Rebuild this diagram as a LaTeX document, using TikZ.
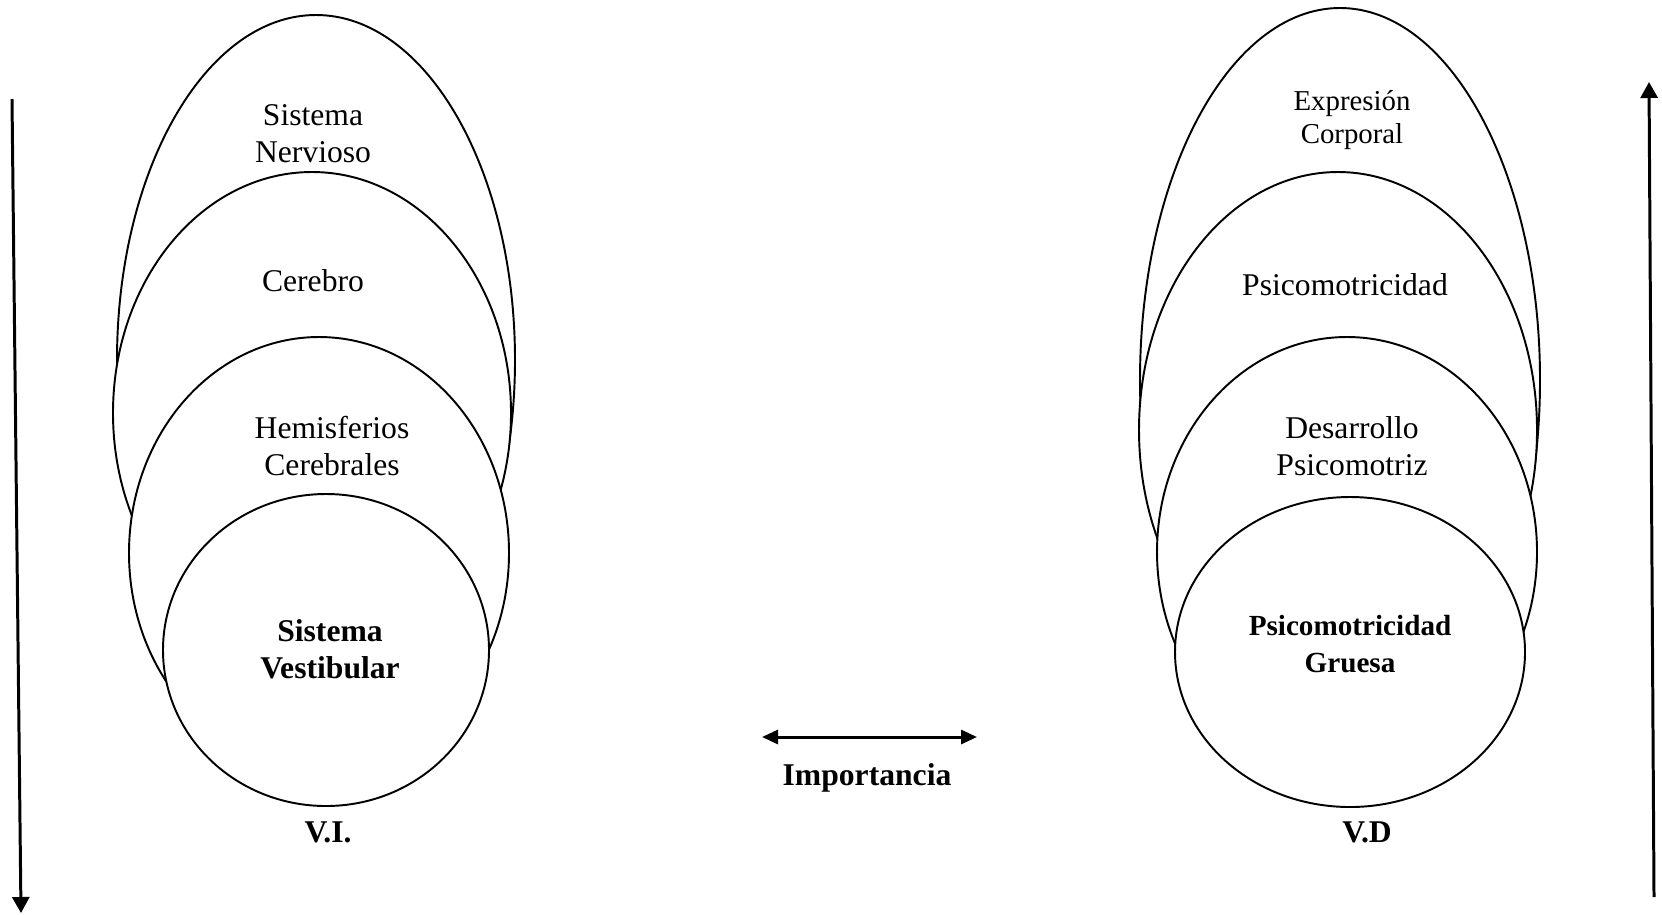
\documentclass[tikz,border=0pt]{standalone}
\usepackage{fontspec}
\setmainfont{Liberation Serif}
\usepackage{tikz}
\usetikzlibrary{shapes.geometric,arrows.meta}
\tikzset{capa/.style={draw,ellipse,fill=white,inner sep=0pt,line width=0.55pt}}
\tikzset{texto/.style={align=center,inner sep=0pt,font=\fontsize{9}{10.5}\selectfont}}
\tikzset{flecha/.style={line width=0.85pt,-{Triangle[length=1.6mm,width=1.7mm]}}}

\begin{document}
\begin{tikzpicture}[x=0.1mm,y=-0.1mm]
    \useasboundingbox (0,0) rectangle (1662,914);
    % V.I.
    \node[capa,minimum width=39.8mm,minimum height=69mm] (nervioso) at (316,360) {};
    \node[capa,minimum width=39.8mm,minimum height=48.2mm] (cerebro) at (312,413) {};
    \node[capa,minimum width=38mm,minimum height=43.2mm] (hemisf) at (319,553) {};
    \node[capa,minimum width=32.6mm,minimum height=31.2mm] (vestib) at (326,650) {};
    \node[texto] (t-nervioso) at (313,134) {Sistema\\Nervioso};
    \node[texto] (t-cerebro) at (313,281) {Cerebro};
    \node[texto] (t-hemisf) at (332,446) {Hemisferios\\Cerebrales};
    \node[texto,font=\fontsize{9}{10.5}\selectfont\bfseries] (t-vestib) at (330,649) {Sistema\\Vestibular};
    \node[texto,font=\fontsize{9}{10.5}\selectfont\bfseries] (vi) at (328,832) {V.I.};
    % V.D
    \node[capa,minimum width=40mm,minimum height=74.4mm] (expresion) at (1340,380) {};
    \node[capa,minimum width=39.8mm,minimum height=51.6mm] (psico) at (1338,430) {};
    \node[capa,minimum width=38mm,minimum height=43mm] (desarr) at (1347,552) {};
    \node[capa,minimum width=35mm,minimum height=31mm] (gruesa) at (1350,652) {};
    \node[texto,font=\fontsize{8.2}{9.6}\selectfont] (t-expresion) at (1352,120) {Expresión\\Corporal};
    \node[texto] (t-psico) at (1345,285) {Psicomotricidad};
    \node[texto] (t-desarr) at (1352,446) {Desarrollo\\Psicomotriz};
    \node[texto,font=\fontsize{8.3}{10.3}\selectfont\bfseries] (t-gruesa) at (1350,644) {Psicomotricidad\\Gruesa};
    \node[texto,font=\fontsize{9}{10.5}\selectfont\bfseries] (vd) at (1367,832) {V.D};
    % flechas
    \coordinate (izq-a) at (12,99);
    \coordinate (izq-b) at (21,913);
    \coordinate (der-a) at (1654,897);
    \coordinate (der-b) at (1649,82);
    \coordinate (imp-a) at (762,737);
    \coordinate (imp-b) at (977,737);
    \draw[flecha] (izq-a) -- (izq-b);
    \draw[flecha] (der-a) -- (der-b);
    \draw[flecha,{Triangle[length=1.6mm,width=1.4mm]}-{Triangle[length=1.6mm,width=1.4mm]}] (imp-a) -- (imp-b);
    \node[texto,font=\fontsize{9}{10.5}\selectfont\bfseries] (importancia) at (867,778) {Importancia};
\end{tikzpicture}
\end{document}
